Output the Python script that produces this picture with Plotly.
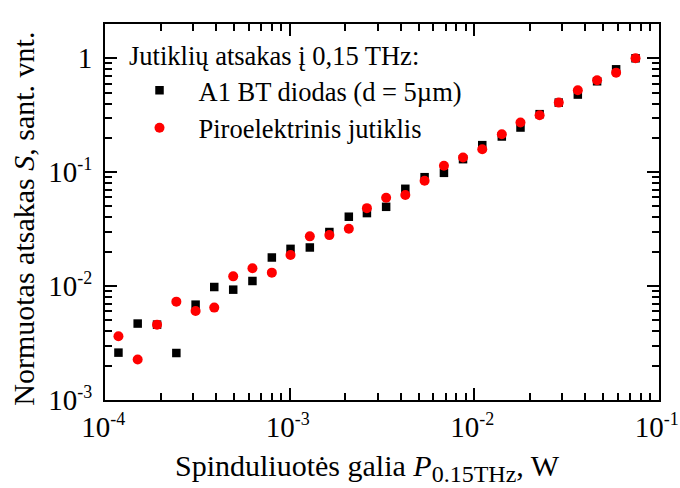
import plotly.graph_objects as go

# Incident 0.15 THz power, W
power = [1.18e-4, 1.50e-4, 1.91e-4, 2.43e-4, 3.09e-4, 3.90e-4, 4.94e-4, 6.28e-4,
         8.00e-4, 1.01e-3, 1.285e-3, 1.64e-3, 2.09e-3, 2.62e-3, 3.33e-3, 4.23e-3,
         5.38e-3, 6.85e-3, 8.69e-3, 1.105e-2, 1.41e-2, 1.78e-2, 2.26e-2, 2.87e-2,
         3.64e-2, 4.63e-2, 5.87e-2, 7.48e-2]

# Normalised responses
diode = [2.60e-3, 4.68e-3, 4.58e-3, 2.58e-3, 6.86e-3, 9.80e-3, 9.29e-3, 1.107e-2,
         1.78e-2, 2.12e-2, 2.18e-2, 2.98e-2, 4.06e-2, 4.37e-2, 4.96e-2, 7.14e-2,
         9.03e-2, 9.86e-2, 0.130, 0.1726, 0.2056, 0.2465, 0.323, 0.408,
         0.480, 0.628, 0.800, 1.0]
pyro = [3.62e-3, 2.26e-3, 4.58e-3, 7.29e-3, 6.04e-3, 6.46e-3, 1.216e-2, 1.43e-2,
        1.31e-2, 1.87e-2, 2.73e-2, 2.80e-2, 3.18e-2, 4.83e-2, 5.96e-2, 6.29e-2,
        8.39e-2, 0.1137, 0.1345, 0.159, 0.2155, 0.273, 0.316, 0.408,
        0.524, 0.641, 0.748, 1.0]

x_exponents = [-4, -3, -2, -1]
y_exponents = [-3, -2, -1]

FONT = "Liberation Serif, Times New Roman, serif"


def power_label(e):
    return f"10<sup><span style=\"font-size:18px\">{e}</span></sup>"


x_tickvals = [10.0 ** e for e in x_exponents]
x_ticktext = [power_label(e) for e in x_exponents]
y_tickvals = [10.0 ** e for e in y_exponents] + [1]
y_ticktext = [power_label(e) for e in y_exponents] + ["1"]


def minor_vals(lo, hi):
    vals = []
    for e in range(lo, hi + 1):
        for m in range(2, 10):
            vals.append(m * 10.0 ** e)
    return vals


fig = go.Figure()
fig.add_trace(go.Scatter(
    x=power, y=diode, mode="markers", name="A1 BT diodas (d = 5µm)",
    marker=dict(symbol="square", size=8.5, color="black"),
))
fig.add_trace(go.Scatter(
    x=power, y=pyro, mode="markers", name="Piroelektrinis jutiklis",
    marker=dict(symbol="circle", size=10, color="#ff0000"),
))

axis_common = dict(
    type="log", showline=True, linecolor="black", linewidth=2, mirror="ticks",
    ticks="inside", ticklen=12, tickwidth=2, tickcolor="black",
    showgrid=False, zeroline=False, tickmode="array",
    ticklabeloverflow="allow", automargin=False,
    tickfont=dict(family=FONT, size=29, color="black"),
)

fig.update_xaxes(
    **axis_common,
    range=[-4.001, -0.999],
    tickvals=x_tickvals, ticktext=x_ticktext,
    ticklabelshift=-2,
    minor=dict(ticks="inside", ticklen=7, tickwidth=2, tickcolor="black",
               tickmode="array", tickvals=minor_vals(-4, -2)),
)
fig.update_yaxes(
    **axis_common,
    range=[-3.001, 0.301],
    tickvals=y_tickvals, ticktext=y_ticktext,
    ticklabelstandoff=5,
    minor=dict(ticks="inside", ticklen=7, tickwidth=2, tickcolor="black",
               tickmode="array", tickvals=minor_vals(-3, 0)),
)

# Axis titles
fig.add_annotation(
    text="Spinduliuotės galia <i>P</i><sub><span style=\"font-size:24px\">0.15THz</span></sub>, W",
    xref="paper", yref="paper", x=0.474, y=-0.18,
    xanchor="center", yanchor="middle", showarrow=False,
    font=dict(family=FONT, size=30, color="black"),
)
fig.add_annotation(
    text="Normuotas atsakas <i>S</i>, sant. vnt.",
    xref="paper", yref="paper", x=-0.147, y=0.481, textangle=-90,
    xanchor="center", yanchor="middle", showarrow=False,
    font=dict(family=FONT, size=30, color="black"),
)

# Legend heading
fig.add_annotation(
    text="Jutiklių atsakas į 0,15 THz:", xref="paper", yref="paper",
    x=0.04, y=0.915, xanchor="left", yanchor="middle", showarrow=False,
    font=dict(family=FONT, size=26.5, color="black"),
)

fig.update_layout(
    width=680, height=488,
    margin=dict(l=105, r=21, t=24, b=88),
    paper_bgcolor="white", plot_bgcolor="white",
    showlegend=True,
    legend=dict(
        x=0.028, y=0.887, xanchor="left", yanchor="top",
        bgcolor="rgba(0,0,0,0)", itemwidth=68,
        font=dict(family=FONT, size=26.5, color="black"),
    ),
)

fig.write_html("out.html")
